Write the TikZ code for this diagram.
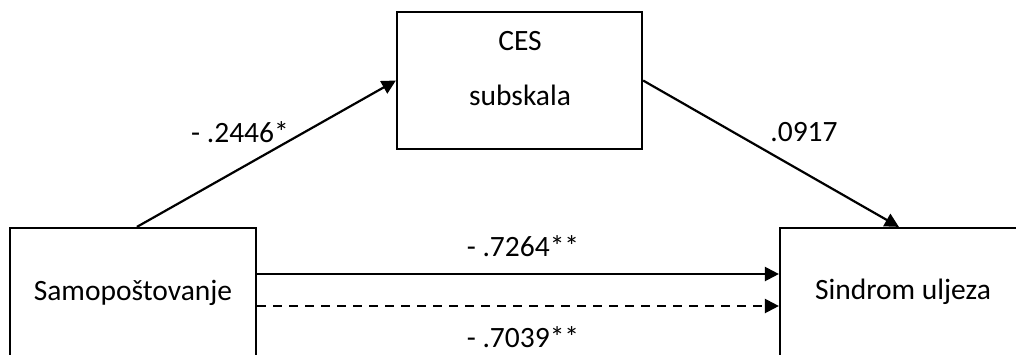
\documentclass[tikz,border=0pt]{standalone}
\usepackage{fontspec}
\setmainfont{Carlito}
\usetikzlibrary{arrows.meta}
\begin{document}
\begin{tikzpicture}[x=1pt,y=-1pt,
  box/.style={draw=black,line width=2.2pt,rectangle,inner sep=0pt},
  txt/.style={anchor=base,inner sep=0pt,font=\fontsize{29.5}{35}\selectfont},
  arr/.style={line width=2.2pt,-{Triangle[length=14pt,width=14pt]}},
  dsh/.style={arr,dash pattern=on 9pt off 7pt}]
\useasboundingbox (0,0) rectangle (1016,354);
\clip (0,0) rectangle (1016,354);
\fill[white] (0,0) rectangle (1016,354);
% boxes
\node[box,minimum width=245pt,minimum height=137pt] (ces) at (519.5,80.5) {};
\node[box,minimum width=246pt,minimum height=140pt] (sam) at (133,298) {};
\node[box,minimum width=246pt,minimum height=140pt] (sind) at (903,298) {};
% box texts
\node[txt] (cesA) at (520,50) {CES};
\node[txt] (cesB) at (520,105) {subskala};
\node[txt] (samT) at (133,300) {Samopoštovanje};
\node[txt] (sindT) at (903,299) {Sindrom uljeza};
% connectors
\draw[arr] ([xshift=128pt]sam.north west) -- (ces.west);
\draw[arr] (ces.east) -- ([xshift=120pt]sind.north west);
\draw[arr] ([yshift=24pt]sam.east) -- ([yshift=24pt]sind.west);
\draw[dsh] ([yshift=-8pt]sam.east) -- ([yshift=-8pt]sind.west);
% labels
\node[txt] (la) at (240,142) {- .2446*};
\node[txt] (lb) at (804,141) {.0917};
\node[txt] (lc) at (523,256) {- .7264**};
\node[txt] (ld) at (523,347) {- .7039**};
\end{tikzpicture}
\end{document}
